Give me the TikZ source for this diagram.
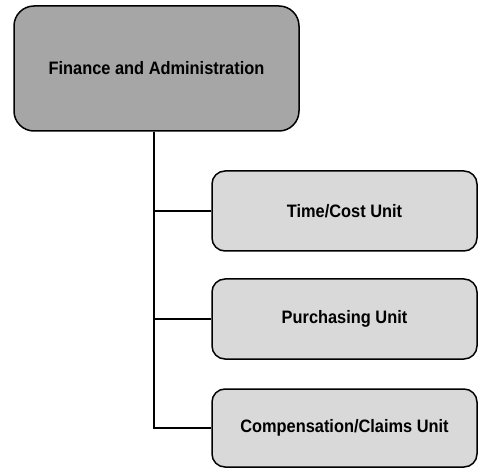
\documentclass[tikz,border=0pt]{standalone}
\usepackage{fontspec}
\setmainfont{Liberation Sans}[FakeStretch=0.91]
\begin{document}
\begin{tikzpicture}[x=1pt,y=-1pt,
  box/.style={draw=black,line width=1.5pt,align=center,font=\bfseries\fontsize{18}{20}\selectfont,inner sep=0pt},
  topbox/.style={box,fill=topgray,rounded corners=20pt,minimum width=285pt,minimum height=125pt},
  unitbox/.style={box,fill=unitgray,rounded corners=13pt,minimum width=265pt,minimum height=80pt},
  link/.style={draw=black,line width=1.5pt}]
\definecolor{topgray}{HTML}{A6A6A6}
\definecolor{unitgray}{HTML}{D9D9D9}
\useasboundingbox (0,0) rectangle (480,468);
\node[topbox] (fa) at (156.5,68.5) {Finance and Administration};
\node[unitbox] (u1) at (344.5,211) {Time/Cost Unit};
\node[unitbox] (u2) at (344.5,319) {Purchasing Unit};
\node[unitbox,minimum height=78pt] (u3) at (344.5,428) {Compensation/Claims Unit};
\coordinate (trunk) at (154,131);
\draw[link] (fa.south -| trunk) |- (u3.west);
\draw[link] (trunk |- u1.west) -- (u1.west);
\draw[link] (trunk |- u2.west) -- (u2.west);
\end{tikzpicture}
\end{document}
